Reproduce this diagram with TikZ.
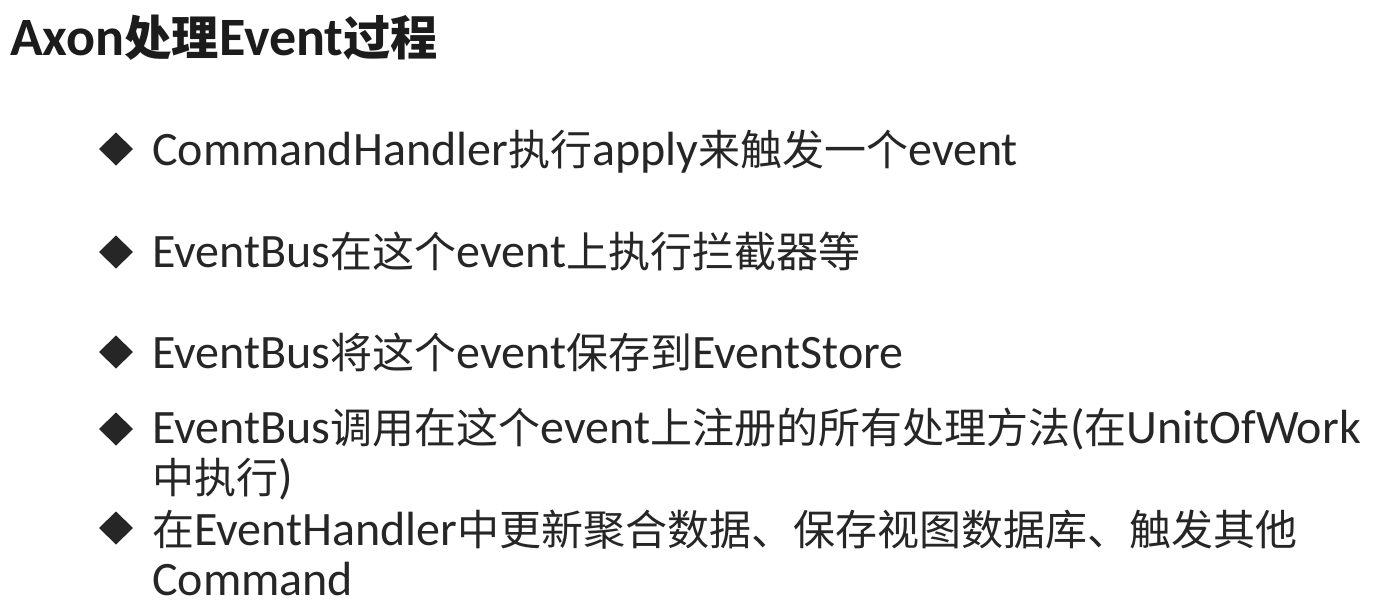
\documentclass[tikz,border=0pt]{standalone}
\usepackage{fontspec}
\setmainfont{Carlito}
\newfontfamily\cjk{Noto Sans CJK SC}[Scale=0.875]
\definecolor{txt}{HTML}{262626}
\definecolor{ttl}{HTML}{1C1C1C}
\tikzset{
  line/.style={anchor=base west, inner sep=0pt, text=txt, text depth=0pt, font=\fontsize{48}{51}\selectfont},
  titletext/.style={anchor=base west, inner sep=0pt, text=ttl, font=\fontsize{54}{56}\selectfont\bfseries},
  bulletmark/.style={fill=txt, draw=none},
}
\begin{document}
\begin{tikzpicture}[x=1pt,y=-1pt]
\useasboundingbox (0,0) rectangle (1379,600);
\fill[white] (0,0) rectangle (1379,600);
\node[titletext] (title) at (10,55) {Axon{\cjk 处理}Event{\cjk 过程}};
% bullets
\foreach \n/\y in {b1/149, b2/252, b3/352, b4/429, b5/528}{
  \fill[bulletmark] (116,\y-16.5) -- (133,\y) -- (116,\y+16.5) -- (99,\y) -- cycle;
}
\node[line] (l1) at (152,165) {CommandHandler{\cjk 执行}apply{\cjk 来触发一个}event};
\node[line] (l2) at (152,267) {EventBus{\cjk 在这个}event{\cjk 上执行拦截器等}};
\node[line] (l3) at (152,368) {EventBus{\cjk 将这个}event{\cjk 保存到}EventStore};
\node[line] (l4a) at (152,443) {EventBus{\cjk 调用在这个}event{\cjk 上注册的所有处理方法}({\cjk 在}UnitOfWork};
\node[line] (l4b) at (152,493) {{\cjk 中执行})};
\node[line] (l5a) at (152,545) {{\cjk 在}EventHandler{\cjk 中更新聚合数据、保存视图数据库、触发其他}};
\node[line] (l5b) at (152,595) {Command};
\end{tikzpicture}
\end{document}
